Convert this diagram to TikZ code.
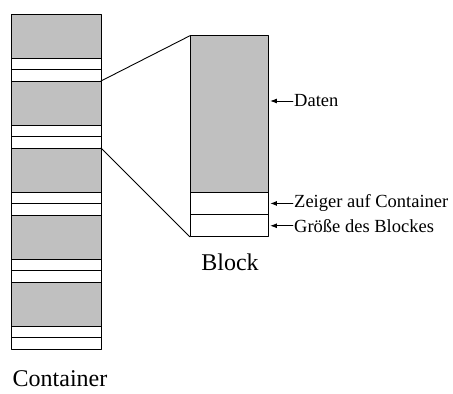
\documentclass[tikz,border=0pt]{standalone}
\usepackage{fontspec}
\setmainfont{Liberation Serif}
\usepackage{tikz}
\usetikzlibrary{arrows.meta,positioning}

\definecolor{datagray}{RGB}{192,192,192}

\begin{document}
\begin{tikzpicture}[x=1pt,y=-1pt,>=Latex,line cap=round,line join=round,
    cell/.style={draw,line width=0.9pt,inner sep=0pt,outer sep=0pt,anchor=north west},
    datacell/.style={cell,fill=datagray},
    lbl/.style={font=\fontsize{18.5}{20}\selectfont,inner sep=1pt,anchor=west},
    caption/.style={font=\fontsize{24}{27}\selectfont,inner sep=0pt}]
  \useasboundingbox (0,0) rectangle (453,394);

  % container
  \foreach \i in {1,...,5} {
    \node[datacell,minimum width=90pt,minimum height=44.6pt] (g\i) at (11,{14+67*(\i-1)}) {};
    \node[cell,minimum width=90pt,minimum height=11.2pt] (p\i) at (g\i.south west) {};
    \node[cell,minimum width=90pt,minimum height=11.2pt] (s\i) at (p\i.south west) {};
  }
  \node[caption,anchor=base] (clbl) at (60,386) {Container};

  % block
  \node[datacell,minimum width=78.3pt,minimum height=156.6pt] (bdata) at (190,35.7) {};
  \node[cell,minimum width=78.3pt,minimum height=22.3pt] (bptr) at (bdata.south west) {};
  \node[cell,minimum width=78.3pt,minimum height=22.3pt] (bsize) at (bptr.south west) {};
  \node[caption,anchor=base] (blbl) at (230,270) {Block};

  % zoom lines
  \draw[line width=0.9pt] (g2.north east) -- (bdata.north west);
  \draw[line width=0.9pt] (g3.north east) -- (bsize.south west);

  % labels
  \node[lbl] (ldata) at (293,101) {Daten};
  \node[lbl] (lptr) at (bptr.center -| ldata.west) {Zeiger auf Container};
  \node[lbl] (lsize) at (bsize.center -| ldata.west) {Größe des Blockes};
  \draw[->,line width=0.8pt,shorten >=2pt] (ldata.west) -- (bdata.east |- ldata.west);
  \draw[->,line width=0.8pt,shorten >=2pt] (lptr.west) -- (bptr.east);
  \draw[->,line width=0.8pt,shorten >=2pt] (lsize.west) -- (bsize.east);
\end{tikzpicture}
\end{document}
